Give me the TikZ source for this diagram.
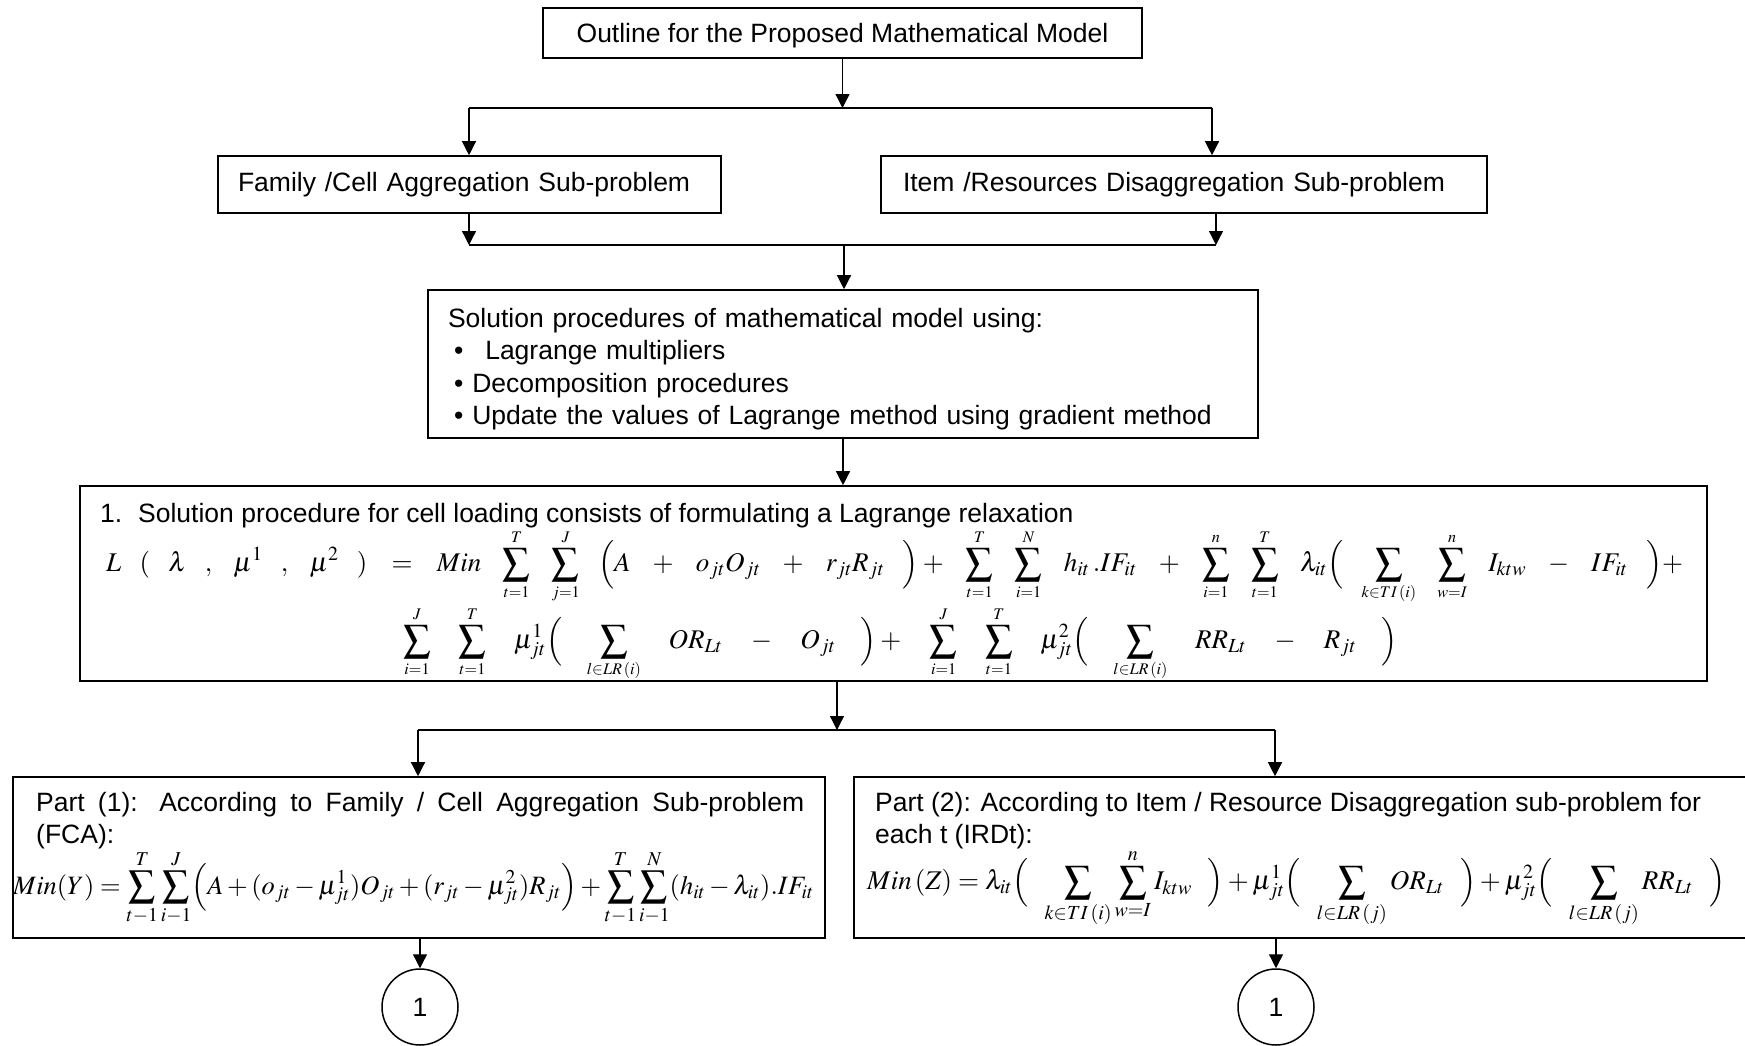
\documentclass[tikz,border=0pt]{standalone}
\usepackage{amsmath}
\usepackage{mathptmx}
\usepackage[no-math]{fontspec}
\setmainfont{Liberation Sans}
\usetikzlibrary{arrows.meta, positioning}

\newcommand{\gap}{\hspace{0pt plus 1fil}}
\newcommand{\Sum}[2]{\sum_{\scriptscriptstyle #1}^{\scriptscriptstyle #2}}

\begin{document}
\begin{tikzpicture}[
    x=1pt, y=-1pt,
    font=\fontsize{26.5}{32.5}\selectfont,
    box/.style={rectangle, draw, line width=1.6pt, inner sep=0pt},
    txt/.style={inner sep=0pt, align=left},
    eqn/.style={inner sep=0pt, anchor=west, font=\fontsize{27}{31}\selectfont},
    circ/.style={circle, draw, line width=1.5pt, minimum size=76pt, inner sep=0pt},
    arrow/.style={-{Triangle[length=14pt,width=14pt]}, line width=1.3pt},
    link/.style={line width=1.3pt}
]
    \useasboundingbox (0,0) rectangle (1745,1045);

    % Top - outline
    \node[box, minimum width=599pt, minimum height=50pt, text depth=0pt] (outline) at (842.5,33) {Outline for the Proposed Mathematical Model};

    % Sub-problems
    \node[box, minimum width=503pt, minimum height=57pt, text width=463pt, align=left] (family) at (469.5,184.5) {Family /Cell Aggregation Sub-problem};
    \node[box, minimum width=606pt, minimum height=57pt, text width=562pt, align=left] (item) at (1184,184.5) {Item /Resources Disaggregation Sub-problem};

    % Solution procedures
    \node[box, minimum width=830pt, minimum height=148pt, text width=790pt, align=left] (solution) at (843,364) {\rule{0pt}{29pt}Solution procedures of mathematical model using:\\
        \hspace*{6pt}•\hspace{22pt}Lagrange multipliers\\
        \hspace*{6pt}•\hspace{9pt}Decomposition procedures\\
        \hspace*{6pt}•\hspace{9pt}Update the values of Lagrange method using gradient method};

    % Lagrange relaxation
    \node[box, minimum width=1627pt, minimum height=195pt] (relax) at (893.5,583.5) {};
    \node[txt, anchor=west] (relaxtitle) at (100,516) {1.\hspace{0.6em}Solution procedure for cell loading consists of formulating a Lagrange relaxation};
    \node[eqn] (relaxeqa) at (106,567) {\hbox to 1577pt{$\displaystyle
        L\gap(\gap\lambda\gap,\gap\mu^{1}\gap,\gap\mu^{2}\gap)\gap=\gap Min\gap
        \Sum{t=1}{T}\gap\Sum{j=1}{J}\gap\Bigl(A\gap+\gap o_{jt}O_{jt}\gap+\gap r_{jt}R_{jt}\gap\Bigr)+\gap
        \Sum{t=1}{T}\gap\Sum{i=1}{N}\gap h_{it}\,.IF_{it}\gap+\gap
        \Sum{i=1}{n}\gap\Sum{t=1}{T}\gap\lambda_{it}\Bigl(\gap\Sum{k\in TI\,(i)}{}\gap\Sum{w=I}{n}\gap I_{ktw}\gap-\gap IF_{it}\gap\Bigr)+$}};
    \node[eqn] (relaxeqb) at (403,644) {\hbox to 994pt{$\displaystyle
        \Sum{i=1}{J}\gap\Sum{t=1}{T}\gap\mu^{1}_{jt}\Bigl(\gap\Sum{l\in LR\,(i)}{}\gap OR_{Lt}\gap-\gap O_{jt}\gap\Bigr)+\gap
        \Sum{i=1}{J}\gap\Sum{t=1}{T}\gap\mu^{2}_{jt}\Bigl(\gap\Sum{l\in LR\,(i)}{}\gap RR_{Lt}\gap-\gap R_{jt}\gap\Bigr)$}};

    % Part 1 and part 2
    \node[box, minimum width=812pt, minimum height=161pt] (part1) at (419,857.5) {};
    \node[txt, anchor=north west, text width=768pt, align=justify] (part1text) at (36,792) {Part (1): According to Family / Cell Aggregation Sub-problem\linebreak (FCA):};
    \node[eqn, font=\fontsize{26.5}{30}\selectfont] (part1eq) at (13,888) {$\displaystyle Min(Y)=\sum_{t-1}^{T}\sum_{i-1}^{J}\Bigl(A+(o_{jt}-\mu_{jt}^{1})O_{jt}+(r_{jt}-\mu_{jt}^{2})R_{jt}\Bigr)+\sum_{t-1}^{T}\sum_{i-1}^{N}(h_{it}-\lambda_{it}).IF_{it}$};

    \node[box, minimum width=916pt, minimum height=161pt] (part2) at (1312,857.5) {};
    \node[txt, anchor=north west] (part2text) at (875,792) {Part (2): According to Item / Resource Disaggregation sub-problem for\\each t (IRDt):};
    \node[eqn] (part2eq) at (867,888) {\hbox to 858pt{$\displaystyle Min\,(Z)=\lambda_{it}\Bigl(\gap\sum_{k\in TI\,(i)}\sum_{w=I}^{n}I_{ktw}\gap\Bigr)+\mu_{jt}^{1}\Bigl(\gap\sum_{l\in LR\,(j)}OR_{Lt}\gap\Bigr)+\mu_{jt}^{2}\Bigl(\gap\sum_{l\in LR\,(j)}RR_{Lt}\gap\Bigr)$}};

    % Connectors
    \node[circ] (cont1) at (420,1007) {1};
    \node[circ] (cont2) at (1276,1007) {1};

    \coordinate (split1l) at (469,108);
    \coordinate (split1r) at (1212,108);
    \coordinate (join2l) at (469,245);
    \coordinate (join2c) at (844,245);
    \coordinate (join2r) at (1216,245);
    \coordinate (split3l) at (418,730);
    \coordinate (split3c) at (837,730);
    \coordinate (split3r) at (1275,730);

    \draw[arrow] (outline) -- (outline |- split1l);
    \draw[link] (split1l) -- (split1r);
    \draw[arrow] (split1l) -- (split1l |- family.north);
    \draw[arrow] (split1r) -- (split1r |- item.north);
    \draw[arrow] (family.south -| join2l) -- (join2l);
    \draw[arrow] (item.south -| join2r) -- (join2r);
    \draw[link] (join2l) -- (join2r);
    \draw[arrow] (join2c) -- (join2c |- solution.north);
    \draw[arrow] (solution.south) -- (solution.south |- relax.north);
    \draw[arrow] (relax.south -| split3c) -- (split3c);
    \draw[link] (split3l) -- (split3r);
    \draw[arrow] (split3l) -- (split3l |- part1.north);
    \draw[arrow] (split3r) -- (split3r |- part2.north);
    \draw[arrow] (part1.south -| cont1) -- (cont1);
    \draw[arrow] (part2.south -| cont2) -- (cont2);

\end{tikzpicture}
\end{document}
